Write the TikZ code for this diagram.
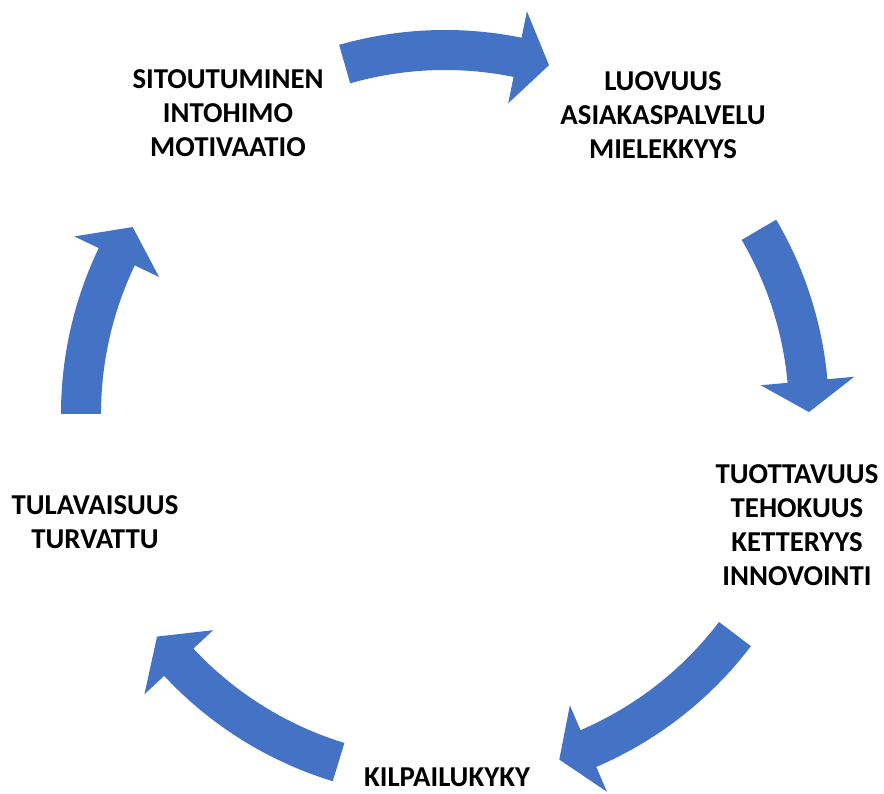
\documentclass[tikz,border=0pt]{standalone}
\usepackage{fontspec}
\setmainfont{Carlito}
\definecolor{cycleblue}{HTML}{4472C4}
% curved block arrow running clockwise round the cycle centre:
% #1 tail angle, #2 angle of the head base, #3 angle of the tip
\newcommand{\bentarrow}[3]{%
  \fill[cyclearrow]
    (#1:\ro) arc[start angle=#1, end angle=#2, radius=\ro]
    -- (#2:\rho) -- (#3:\rc) -- (#2:\rhi)
    -- (#2:\ri) arc[start angle=#2, end angle=#1, radius=\ri] -- cycle;}
\def\rc{364}   % middle line of the ring
\def\ro{384}   % outer edge of the shaft
\def\ri{344}   % inner edge of the shaft
\def\rho{411}  % outer corner of the head
\def\rhi{317}  % inner corner of the head
\begin{document}
\begin{tikzpicture}[x=1pt, y=1pt,
  cyclearrow/.style={fill=cycleblue},
  label/.style={font=\fontsize{28.8}{34}\selectfont\bfseries, align=center,
                inner sep=0pt, text=black}]
\useasboundingbox (0,0) rectangle (884,794);
\begin{scope}[shift={(445,380)}]
  \bentarrow{106}{78.5}{73.4}
  \bentarrow{30.4}{5.2}{0.3}
  \bentarrow{-37.2}{-66.8}{-71.7}
  \bentarrow{-107}{-137}{-142.3}
  \bentarrow{180}{154.4}{149.1}
\end{scope}
\node[label] (commit) at (228,681) {SITOUTUMINEN\\INTOHIMO\\MOTIVAATIO};
\node[label] (create) at (663,679) {LUOVUUS\\ASIAKASPALVELU\\MIELEKKYYS};
\node[label] (produce) at (797,269) {TUOTTAVUUS\\TEHOKUUS\\KETTERYYS\\INNOVOINTI};
\node[label] (compete) at (447,17) {KILPAILUKYKY};
\node[label] (future) at (95,272) {TULAVAISUUS\\TURVATTU};
\end{tikzpicture}
\end{document}
